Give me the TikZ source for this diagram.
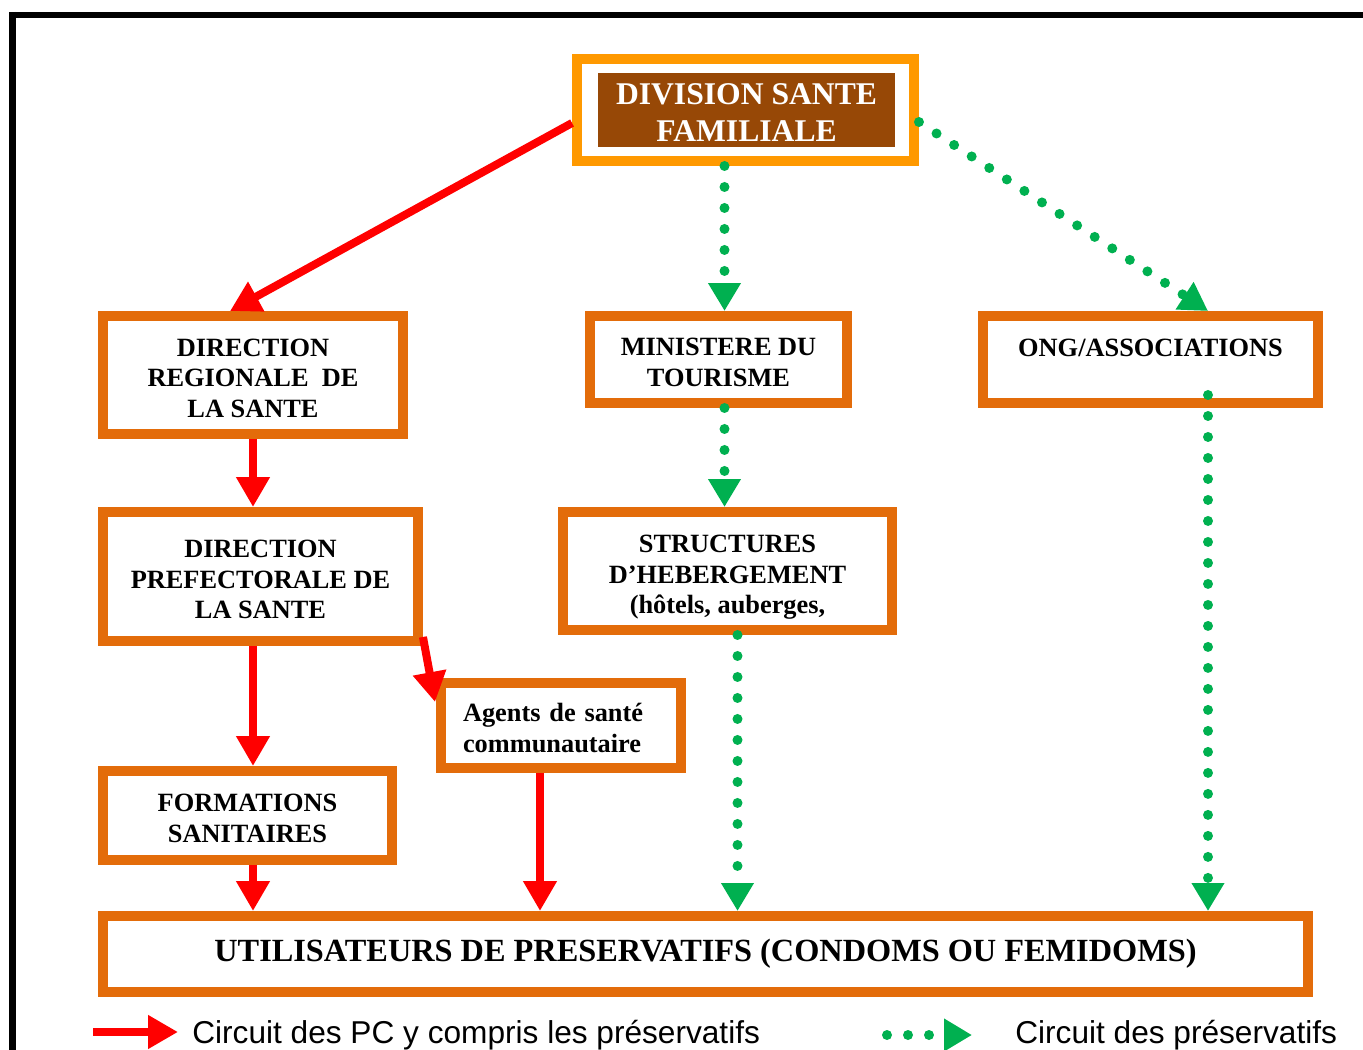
\documentclass[tikz,border=0pt]{standalone}
\usepackage{fontspec}
\setmainfont{Liberation Serif}
\newfontfamily\legendfont{Liberation Sans}
\usetikzlibrary{arrows.meta,calc}
\definecolor{boxorange}{RGB}{227,108,10}
\definecolor{dsforange}{RGB}{255,153,0}
\definecolor{dsfbrown}{RGB}{151,72,6}
\definecolor{pcred}{RGB}{255,0,0}
\definecolor{condgreen}{RGB}{0,176,80}
\tikzset{
    orgbox/.style={draw=boxorange, line width=0.2cm, align=center, inner sep=0pt,
        font=\bfseries\fontsize{15}{17.4}\selectfont},
    pcflow/.style={draw=pcred, line width=0.16cm, -{Triangle[length=0.6cm,width=0.64cm]}},
    condflow/.style={draw=condgreen, line width=0.2cm, line cap=round,
        dash pattern=on 0pt off 0.42cm, -{Triangle[length=0.56cm,width=0.62cm]}},
    legtext/.style={inner sep=0pt, font=\legendfont\fontsize{18}{21}\selectfont}
}
\begin{document}
\begin{tikzpicture}[x=0.02cm,y=-0.02cm]
        \useasboundingbox (0,0) rectangle (1363,1050);
        \draw[line width=0.12cm] (9,15) -- (1363,15);
        \draw[line width=0.14cm] (12.5,12) -- (12.5,1050);

        \node[draw=dsforange, line width=0.2cm, minimum width=6.74cm, minimum height=2.04cm, inner sep=0pt] (dsf) at (745.5,110) {};
        \node[fill=dsfbrown, text=white, minimum width=5.94cm, minimum height=1.48cm, inner sep=0pt, align=center,
            font=\bfseries\fontsize{18}{21}\selectfont] (dsflab) at (746.5,110) {\rule{0pt}{14.5pt}DIVISION SANTE\\FAMILIALE};
        \node[orgbox, minimum width=6cm, minimum height=2.36cm] (drs) at (253,375) {\rule{0pt}{13.5pt}DIRECTION\\REGIONALE\ \ DE\\LA SANTE};
        \node[orgbox, minimum width=5.14cm, minimum height=1.74cm] (mintour) at (718.5,359.5) {\rule{0pt}{13.5pt}MINISTERE DU\\TOURISME};
        \node[orgbox, minimum width=6.7cm, minimum height=1.74cm] (ong) at (1150.5,359.5) {\rule{0pt}{13.5pt}ONG/ASSOCIATIONS\\~};
        \node[orgbox, minimum width=6.3cm, minimum height=2.58cm] (dps) at (260.5,576.5) {\rule{0pt}{13.5pt}DIRECTION\\PREFECTORALE DE\\LA SANTE};
        \node[orgbox, minimum width=6.58cm, minimum height=2.36cm] (heberg) at (727.5,571) {\rule{0pt}{17pt}STRUCTURES\\D’HEBERGEMENT\\(hôtels, auberges,};
        \node[orgbox, align=left, text width=3.92cm, inner xsep=0.44cm, minimum height=1.7cm] (asc) at (561,725.5) {\rule{0pt}{13.5pt}Agents de santé\\communautaire};
        \node[orgbox, minimum width=5.78cm, minimum height=1.78cm] (fs) at (247.5,815.5) {\rule{0pt}{13.5pt}FORMATIONS\\SANITAIRES};
        \node[orgbox, minimum width=24.1cm, minimum height=1.52cm, font=\bfseries\fontsize{18.4}{21}\selectfont] (users) at (705.5,954)
            {UTILISATEURS DE PRESERVATIFS (CONDOMS OU FEMIDOMS)};

        % circuit des PC
        \coordinate (ascout) at ($(asc.south)+(-21,0)$);
        \path[pcflow] ($(dsf.west)+(0,13)$) -- ($(drs.north)+(-23,0)$);
        \path[pcflow] (drs.south) -- (drs.south |- dps.north);
        \path[pcflow] (dps.south -| drs.south) -- (drs.south |- fs.north);
        \path[pcflow] ($(dps.south east)+(0,-9)$) -- ($(asc.north west)+(-1,24)$);
        \path[pcflow] (fs.south -| drs.south) -- (drs.south |- users.north);
        \path[pcflow] (ascout) -- (ascout |- users.north);

        % circuit des preservatifs
        \coordinate (dsfout) at ($(dsf.south)+(-21,0)$);
        \coordinate (hebout) at ($(heberg.south)+(10,0)$);
        \coordinate (ongout) at ($(ong.south)+(57.5,-13)$);
        \path[condflow] (dsfout) -- (dsfout |- mintour.north);
        \path[condflow] ($(dsf.east)+(0,12)$) -- (ongout |- ong.north);
        \path[condflow] (mintour.south -| dsfout) -- (dsfout |- heberg.north);
        \path[condflow] (hebout) -- (hebout |- users.north);
        \path[condflow] (ongout) -- (ongout |- users.north);

        % legende
        \coordinate (pcleg) at (93,1032);
        \coordinate (pclegtip) at (178,1032);
        \coordinate (condleg) at (887,1035);
        \coordinate (condlegtip) at (972,1035);
        \path[pcflow] (pcleg) -- (pclegtip);
        \path[condflow] (condleg) -- (condlegtip);
        \node[legtext, anchor=base west] (pcleglab) at (192,1043) {Circuit des PC y compris les préservatifs};
        \node[legtext, anchor=base west] (condleglab) at (1015,1043) {Circuit des préservatifs};
\end{tikzpicture}
\end{document}
